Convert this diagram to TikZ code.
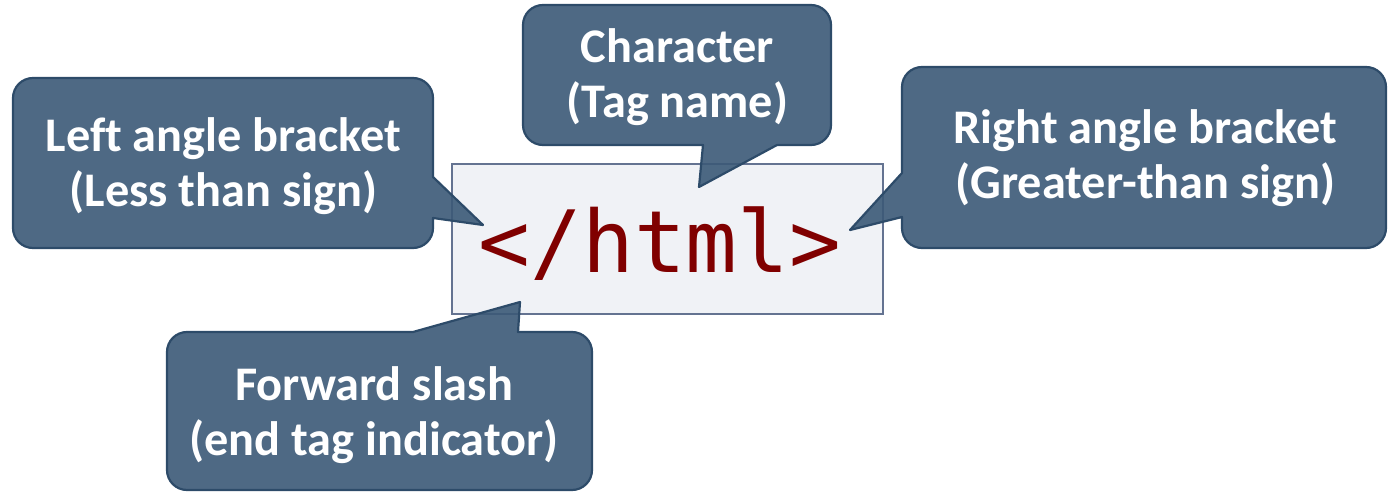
\documentclass[tikz,border=0pt]{standalone}
\usepackage{fontspec}
\setmainfont{Carlito}[Ligatures=NoCommon]
\newfontfamily\codefont{DejaVu Sans Mono}
\definecolor{calloutfill}{RGB}{59,89,119}
\definecolor{calloutline}{RGB}{45,75,105}
\definecolor{boxfill}{RGB}{240,242,246}
\definecolor{boxline}{RGB}{100,115,145}
\definecolor{codered}{RGB}{128,0,0}
\newcommand{\topstrut}{\rule{0pt}{40pt}}
\newcommand{\botstrut}{\rule[-15pt]{0pt}{15pt}}
\tikzset{
  callout/.style={fill=calloutfill, fill opacity=0.9, draw=calloutline, line width=2.2pt, line join=round},
  lbl/.style={text=white, font=\bfseries\fontsize{48.3}{55}\selectfont, align=center, inner sep=0pt},
  codebox/.style={draw=boxline, fill=boxfill, line width=2pt, inner sep=0pt}
}
\begin{document}
\begin{tikzpicture}[x=1pt,y=-1pt]
\useasboundingbox (0,0) rectangle (1389,492);
% code box
\node[codebox, minimum width=431pt, minimum height=150pt] (box) at (667.5,238.5) {};
\node[anchor=base, text=codered, font=\codefont\fontsize{86}{86}\selectfont, inner sep=0pt] (code) at (660,272) {</html>};
% callouts
\path[callout] (33,78) -- (413,78) arc[start angle=270,end angle=360,radius=20]
  -- (433,177) -- (483,225) -- (433,218) -- (433,228) arc[start angle=0,end angle=90,radius=20]
  -- (33,248) arc[start angle=90,end angle=180,radius=20]
  -- (13,98) arc[start angle=180,end angle=270,radius=20] -- cycle;
\path[callout] (543,5) -- (811,5) arc[start angle=270,end angle=360,radius=20]
  -- (831,125) arc[start angle=0,end angle=90,radius=20]
  -- (777,145) -- (699,187) -- (703,145) -- (543,145) arc[start angle=90,end angle=180,radius=20]
  -- (523,25) arc[start angle=180,end angle=270,radius=20] -- cycle;
\path[callout] (922,67) -- (1366,67) arc[start angle=270,end angle=360,radius=20]
  -- (1386,228) arc[start angle=0,end angle=90,radius=20]
  -- (922,248) arc[start angle=90,end angle=180,radius=20]
  -- (902,217) -- (850,230) -- (902,173) -- (902,87) arc[start angle=180,end angle=270,radius=20] -- cycle;
\path[callout] (187,332) -- (413,332) -- (520,302) -- (518,332) -- (572,332) arc[start angle=270,end angle=360,radius=20]
  -- (592,470) arc[start angle=0,end angle=90,radius=20]
  -- (187,490) arc[start angle=90,end angle=180,radius=20]
  -- (167,352) arc[start angle=180,end angle=270,radius=20] -- cycle;
% labels
\node[lbl] (lt) at (223.5,166) {\topstrut Left angle bracket\\(Less than sign)\botstrut};
\node[lbl] (tp) at (677.5,78) {\topstrut Character\\(Tag name)\botstrut};
\node[lbl] (rt) at (1145.5,158) {\topstrut Right angle bracket\\(Greater-than sign)\botstrut};
\node[lbl] (bt) at (374,415) {\topstrut Forward slash\\(end tag indicator)\botstrut};
\end{tikzpicture}
\end{document}
